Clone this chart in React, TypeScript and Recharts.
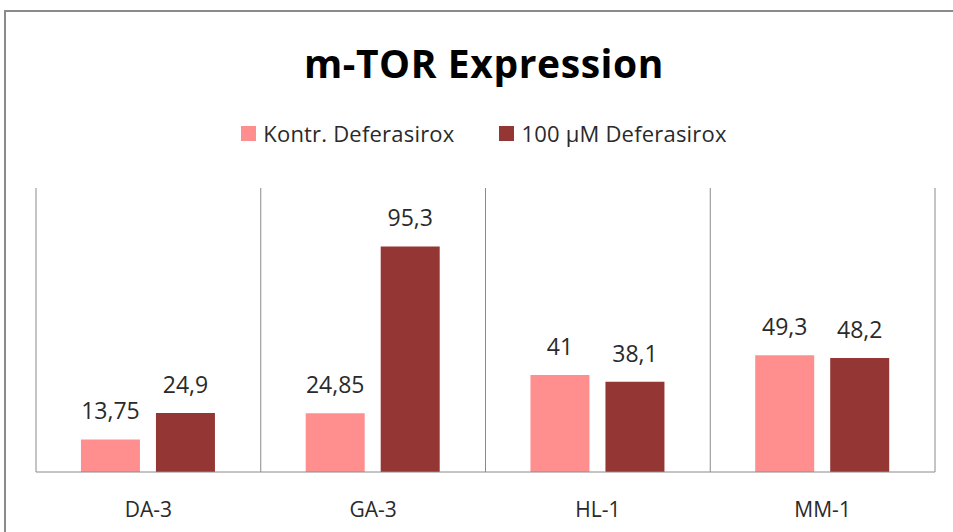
import React from 'react';
import { BarChart, Bar, XAxis, YAxis, CartesianGrid, Legend, LabelList } from 'recharts';

const categories = ['DA-3', 'GA-3', 'HL-1', 'MM-1'];
const kontrValues = [13.75, 24.85, 41, 49.3];
const deferasiroxValues = [24.9, 95.3, 38.1, 48.2];

const SERIES = [
  { key: 'kontr', name: 'Kontr. Deferasirox', color: '#FF8F8F' },
  { key: 'defer', name: '100 µM Deferasirox', color: '#943634' },
];

const data = categories.map((name, i) => ({
  name,
  kontr: kontrValues[i],
  defer: deferasiroxValues[i],
}));

const FONT = '"Open Sans", "Liberation Sans", sans-serif';
const fmt = (v: any) => String(v).replace('.', ',');

const LegendContent = () => (
  <div
    style={{
      display: 'flex',
      justifyContent: 'center',
      alignItems: 'center',
      height: 30,
      fontFamily: FONT,
      fontSize: 22,
      letterSpacing: 0.2,
      color: '#2a2a2a',
    }}
  >
    {SERIES.map((s, i) => (
      <div key={s.key} style={{ display: 'flex', alignItems: 'center', marginLeft: i ? 45 : 0 }}>
        <span style={{ width: 15, height: 15, background: s.color, marginRight: 7, display: 'inline-block' }} />
        <span>{s.name}</span>
      </div>
    ))}
  </div>
);

export default function App() {
  return (
    <div style={{ position: 'fixed', left: 0, top: 0, width: 953, height: 532, background: '#fff', overflow: 'hidden' }}>
      <div
        style={{
          position: 'absolute',
          left: 4,
          top: 10,
          width: 980,
          height: 560,
          border: '2px solid #8a8a8a',
          boxSizing: 'border-box',
        }}
      />
      <div
        style={{
          position: 'absolute',
          left: 0,
          width: 968,
          top: 36,
          textAlign: 'center',
          fontFamily: FONT,
          fontWeight: 700,
          fontSize: 39,
          letterSpacing: 0.6,
          color: '#000',
        }}
      >
        m-TOR Expression
      </div>
      <div style={{ position: 'absolute', left: 0, top: 0 }}>
        <BarChart
          width={953}
          height={532}
          data={data}
          margin={{ top: 158, right: 18, bottom: 20, left: 36 }}
          barCategoryGap="20%"
          barGap={16}
        >
          <CartesianGrid
            horizontal={false}
            stroke="#8a8a8a"
            verticalCoordinatesGenerator={({ offset }: any) =>
              categories.map((_, i) => offset.left + (i * offset.width) / categories.length).concat(offset.left + offset.width)
            }
          />
          <XAxis
            dataKey="name"
            height={40}
            tickLine={false}
            axisLine={{ stroke: '#8a8a8a' }}
            tickMargin={24}
            tick={{ fill: '#2a2a2a', fontSize: 21, fontFamily: FONT }}
          />
          <YAxis hide domain={[0, 120]} />
          <Legend
            verticalAlign="top"
            align="center"
            content={<LegendContent />}
            wrapperStyle={{ top: 118, left: 0, width: 968 }}
          />
          {SERIES.map((s) => (
            <Bar key={s.key} dataKey={s.key} name={s.name} fill={s.color} isAnimationActive={false}>
              <LabelList
                dataKey={s.key}
                position="top"
                offset={20}
                formatter={fmt}
                style={{ fill: '#2a2a2a', fontSize: 23, fontFamily: FONT }}
              />
            </Bar>
          ))}
        </BarChart>
      </div>
    </div>
  );
}
